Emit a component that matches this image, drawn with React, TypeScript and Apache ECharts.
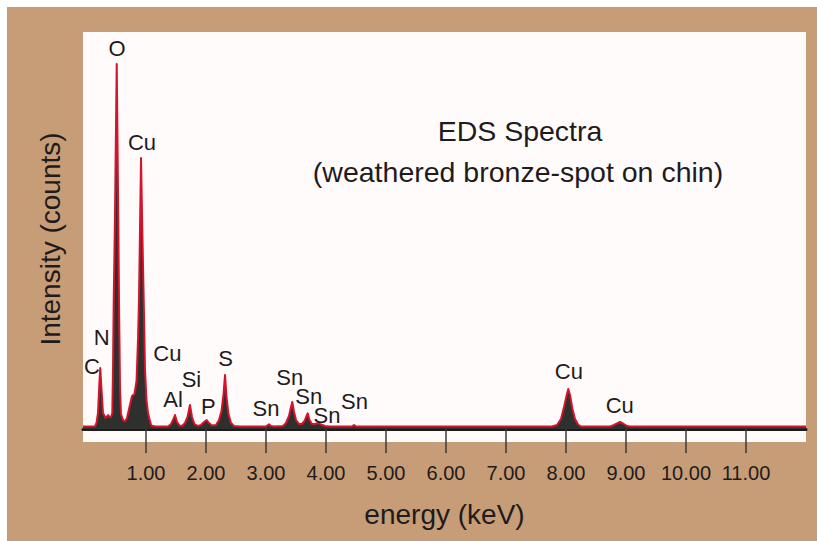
import React, { useEffect, useRef } from "react";
import * as echarts from "echarts";

// Spectrum (energy in keV, intensity in counts)
const energy = [
  -0.05, 0.15, 0.175, 0.2, 0.222, 0.238, 0.258, 0.283, 0.328, 0.367, 0.392, 0.417,
  0.438, 0.45, 0.462, 0.483, 0.512, 0.538, 0.55, 0.567, 0.583,
  0.617, 0.65, 0.683, 0.725, 0.767, 0.808, 0.842, 0.867, 0.883, 0.9, 0.917, 0.938, 0.962, 0.983, 1.008, 1.033, 1.062, 1.088, 1.15,
  1.367, 1.417, 1.45, 1.483, 1.517, 1.558, 1.6, 1.65, 1.692, 1.733, 1.767, 1.808, 1.867, 1.917, 1.967, 2.012, 2.05, 2.1, 2.167, 2.217, 2.258, 2.292, 2.317, 2.342, 2.375, 2.417, 2.467, 2.567,
  3.0, 3.033, 3.05, 3.083, 3.133, 3.283, 3.333, 3.383, 3.417, 3.438, 3.467, 3.5, 3.55, 3.6, 3.642, 3.675, 3.695, 3.725, 3.767, 3.817, 3.872, 3.917, 3.983, 4.067,
  4.433, 4.467, 4.5,
  7.767, 7.85, 7.917, 7.967, 8.008, 8.038, 8.067, 8.108, 8.15, 8.2, 8.25,
  8.733, 8.783, 8.85, 8.9, 8.95, 9.017, 9.067, 12.0,
];
const counts = [
  25, 25, 60, 160, 450, 610, 400, 160, 110, 140, 120, 120,
  160, 600, 1290, 2120, 3650, 2120, 1290, 400, 150,
  90, 75, 110, 220, 330, 350, 480, 900, 1290, 2000, 2710, 2000, 1290, 600, 290, 160, 90, 35, 25,
  25, 50, 90, 140, 70, 35, 30, 60, 120, 240, 120, 50, 30, 40, 70, 90, 60, 35, 40, 90, 180, 350, 540, 320, 150, 60, 30, 25,
  25, 40, 47, 30, 25, 30, 60, 130, 220, 270, 170, 90, 50, 50, 80, 130, 157, 90, 50, 50, 60, 45, 30, 25,
  25, 40, 25,
  25, 40, 100, 220, 330, 400, 340, 200, 100, 45, 25,
  25, 35, 55, 70, 55, 30, 25, 25,
];

// Peak annotations
const peakNames = ["O", "Cu", "N", "C", "Cu", "Al", "Si", "P", "S", "Sn", "Sn", "Sn", "Sn", "Sn", "Cu", "Cu"];
const peakLabelEnergy = [0.517, 0.933, 0.262, 0.1, 1.355, 1.45, 1.758, 2.038, 2.325, 3.0, 3.395, 3.713, 4.017, 4.475, 8.047, 8.895];
const peakLabelCounts = [3810, 2870, 915, 630, 760, 300, 500, 230, 703, 203, 515, 323, 140, 280, 577, 240];

// Tick labels
const tickValues = [1, 2, 3, 4, 5, 6, 7, 8, 9, 10, 11];

const FONT = "'Liberation Sans', Arial, Helvetica, sans-serif";
const TEXT = "#1f1b1c";

export default function App() {
  const ref = useRef<HTMLDivElement>(null);
  useEffect(() => {
    if (!ref.current) return;
    const chart = echarts.init(ref.current, undefined, { renderer: "svg" });
    const spectrum = energy.map((e, i) => [e, counts[i]]);
    const labels = peakNames.map((n, i) => ({ name: n, value: [peakLabelEnergy[i], peakLabelCounts[i]] }));
    chart.setOption({
      animation: false,
      backgroundColor: "#ffffff",
      graphic: [
        { type: "rect", z: -100, silent: true, shape: { x: 7, y: 7, width: 810, height: 534 }, style: { fill: "#c69d76" } },
        { type: "rect", z: -90, silent: true, shape: { x: 83, y: 32, width: 723, height: 410 }, style: { fill: "#fffbfb" } },
        {
          type: "text", x: 50, y: 239, rotation: Math.PI / 2, z: 10,
          style: { text: "Intensity (counts)", font: `28px ${FONT}`, fill: TEXT, align: "center", verticalAlign: "middle", textAlign: "center", textVerticalAlign: "middle" },
        },
        {
          type: "text", x: 520, y: 131, z: 10,
          style: { text: "EDS Spectra", font: `28.5px ${FONT}`, fill: TEXT, align: "center", verticalAlign: "middle", textAlign: "center", textVerticalAlign: "middle" },
        },
        {
          type: "text", x: 518, y: 172, z: 10,
          style: { text: "(weathered bronze-spot on chin)", font: `28.5px ${FONT}`, fill: TEXT, align: "center", verticalAlign: "middle", textAlign: "center", textVerticalAlign: "middle" },
        },
      ],
      grid: { left: 83, right: 11, top: 29, bottom: 112, containLabel: false },
      xAxis: {
        type: "value",
        min: -0.05,
        max: 12,
        name: "energy (keV)",
        nameLocation: "middle",
        nameGap: 71,
        nameTextStyle: { fontSize: 28, fontFamily: FONT, color: TEXT },
        axisLine: { show: true, onZero: false, lineStyle: { color: "#1c1c1c", width: 3 } },
        axisTick: { show: true, customValues: tickValues, length: 24, lineStyle: { color: "#3a3a3a", width: 1.5 } },
        axisLabel: {
          customValues: tickValues,
          formatter: (v: number) => v.toFixed(2),
          margin: 34,
          fontSize: 20,
          fontFamily: FONT,
          color: TEXT,
        },
        splitLine: { show: false },
      },
      yAxis: { type: "value", min: 0, max: 4000, show: false },
      series: [
        {
          type: "line",
          data: spectrum,
          symbol: "none",
          smooth: false,
          z: 3,
          lineStyle: { color: "#d3142b", width: 2, join: "round" },
          areaStyle: { color: "#2e302d", opacity: 1 },
        },
        {
          type: "scatter",
          data: labels,
          symbolSize: 0,
          z: 5,
          itemStyle: { opacity: 1 },
          label: {
            show: true,
            position: "inside",
            formatter: (p: any) => p.name,
            fontSize: 22,
            fontFamily: FONT,
            color: TEXT,
            opacity: 1,
            textBorderWidth: 0,
          },
        },
      ],
    });
    return () => chart.dispose();
  }, []);
  return <div ref={ref} style={{ position: "fixed", left: 0, top: 0, width: 817, height: 541 }} />;
}
